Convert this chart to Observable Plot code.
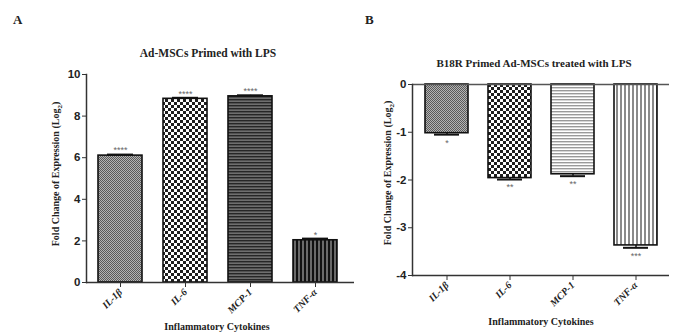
<!DOCTYPE html>
<html>
<head>
<meta charset="utf-8">
<script src="https://cdn.jsdelivr.net/npm/d3@7"></script>
<script src="https://cdn.jsdelivr.net/npm/@observablehq/plot@0.6"></script>
<style>
  body { margin: 0; background: #fff; }
  #wrap { position: relative; width: 688px; height: 334px; overflow: hidden; background: #fff; font-family: "Liberation Serif", "Times New Roman", serif; }
  .abs { position: absolute; white-space: nowrap; font-weight: bold; color: #222; }
  .plot { position: absolute; top: 0; }
  .ylab { transform: translate(-50%, -50%) rotate(-90deg); font-size: 10px; }
</style>
</head>
<body>
<div id="wrap">
  <div class="abs" style="left:13px; top:12px; font-size:13px;">A</div>
  <div class="abs" style="left:365px; top:12px; font-size:13px;">B</div>
  <div class="abs" style="left:208px; top:53px; font-size:11.5px; transform:translate(-50%,-50%);">Ad-MSCs Primed with LPS</div>
  <div class="abs" style="left:534px; top:63px; font-size:11px; transform:translate(-50%,-50%);">B18R Primed Ad-MSCs treated with LPS</div>
  <div class="abs ylab" style="left:57px; top:174px;">Fold Change of Expression (Log<sub style="font-size:7px">2</sub>)</div>
  <div class="abs ylab" style="left:389px; top:173px;">Fold Change of Expression (Log<sub style="font-size:7px">2</sub>)</div>
  <div class="abs" style="left:217px; top:326px; font-size:10px; transform:translate(-50%,-50%);">Inflammatory Cytokines</div>
  <div class="abs" style="left:541px; top:321px; font-size:10px; transform:translate(-50%,-50%);">Inflammatory Cytokines</div>
</div>
<script>
// ---- data ----
const categories = ["IL-1β", "IL-6", "MCP-1", "TNF-α"];
const valuesA = [6.1, 8.83, 8.95, 2.03];
const errorsA = [0.05, 0.05, 0.05, 0.08];
const starsA = ["****", "****", "****", "*"];
const ticksA = [0, 2, 4, 6, 8, 10];

const valuesB = [-1.02, -1.96, -1.88, -3.37];
const errorsB = [0.03, 0.03, 0.04, 0.05];
const starsB = ["*", "**", "**", "***"];
const ticksB = [0, -1, -2, -3, -4];

const dataA = categories.map((c, i) => ({cat: c, v: valuesA[i], e: errorsA[i], s: starsA[i]}));
const dataB = categories.map((c, i) => ({cat: c, v: valuesB[i], e: errorsB[i], s: starsB[i]}));

function defsFor(prefix, light) {
  const hs = light ? ["#ffffff", "#9a9a9a"] : ["#6e6e6e", "#262626"];
  const vs = light ? ["#ffffff", "#8a8a8a"] : ["#6a6a6a", "#111111"];
  return `
  <pattern id="${prefix}0" width="2" height="2" patternUnits="userSpaceOnUse">
    <rect width="2" height="2" fill="#b4b4b4"/><rect width="1" height="1" fill="#5a5a5a"/><rect x="1" y="1" width="1" height="1" fill="#5a5a5a"/>
  </pattern>
  <pattern id="${prefix}1" width="6" height="6" patternUnits="userSpaceOnUse">
    <rect width="6" height="6" fill="#ffffff"/><rect width="3" height="3" fill="#1e1e1e"/><rect x="3" y="3" width="3" height="3" fill="#1e1e1e"/>
  </pattern>
  <pattern id="${prefix}2" width="4" height="3" patternUnits="userSpaceOnUse">
    <rect width="4" height="3" fill="${hs[0]}"/><rect width="4" height="1.4" fill="${hs[1]}"/>
  </pattern>
  <pattern id="${prefix}3" width="4" height="4" patternUnits="userSpaceOnUse">
    <rect width="4" height="4" fill="${vs[0]}"/><rect width="2" height="4" fill="${vs[1]}"/>
  </pattern>`;
}

function addDefs(svg, prefix, light) {
  const d = document.createElementNS("http://www.w3.org/2000/svg", "defs");
  d.innerHTML = defsFor(prefix, light);
  svg.insertBefore(d, svg.firstChild);
}

const axisFontY = {fontSize: 11.5, fontWeight: "bold", fontFamily: "Liberation Sans, Arial, sans-serif", fill: "#222"};
const axisFontX = {fontSize: 10, fontWeight: "bold", fontStyle: "italic", fontFamily: "Liberation Serif, Times New Roman, serif", fill: "#222"};

// ---- Panel A ----
const plotA = Plot.plot({
  width: 360, height: 334,
  marginLeft: 86, marginRight: 6, marginTop: 74, marginBottom: 52,
  style: {background: "transparent", overflow: "visible"},
  x: {domain: categories, paddingInner: 0.33, paddingOuter: 0.17, range: [86, 349], label: null},
  y: {domain: [0, 10], label: null},
  color: {type: "identity"},
  marks: [
    Plot.barY(dataA, {x: "cat", y: "v", fill: d => `url(#pa${categories.indexOf(d.cat)})`, stroke: "#111", strokeWidth: 1.6}),
    Plot.ruleX(dataA, {x: "cat", y1: "v", y2: d => d.v + d.e, stroke: "#111", strokeWidth: 1.5}),
    Plot.tickY(dataA, {x: "cat", y: d => d.v + d.e, stroke: "#111", strokeWidth: 2, inset: 9}),
    Plot.text(dataA, {x: "cat", y: d => d.v + d.e, text: "s", dy: -4, fill: "#666", fontSize: 9, fontFamily: "Liberation Sans, sans-serif"}),
    Plot.ruleY([0], {stroke: "#333", strokeWidth: 1.5}),
    Plot.frame({anchor: "left", stroke: "#333", strokeWidth: 1.5}),
    Plot.axisY({ticks: ticksA, tickSize: 4, tickPadding: 2, label: null, stroke: "#333", ...axisFontY}),
    Plot.axisX({tickRotate: -45, tickSize: 5, tickPadding: 3, label: null, stroke: "#333", ...axisFontX})
  ]
});
addDefs(plotA, "pa", false);
plotA.classList.add("plot");
plotA.style.left = "0px";

// ---- Panel B ----
const plotB = Plot.plot({
  width: 344, height: 334,
  marginLeft: 68, marginRight: 19, marginTop: 84, marginBottom: 59,
  style: {background: "transparent", overflow: "visible"},
  x: {domain: categories, paddingInner: 0.32, paddingOuter: 0.19, label: null},
  y: {domain: [-4, 0], label: null},
  color: {type: "identity"},
  marks: [
    Plot.barY(dataB, {x: "cat", y: "v", fill: d => `url(#pb${categories.indexOf(d.cat)})`, stroke: "#111", strokeWidth: 1.6}),
    Plot.ruleX(dataB, {x: "cat", y1: "v", y2: d => d.v - d.e, stroke: "#111", strokeWidth: 1.5}),
    Plot.tickY(dataB, {x: "cat", y: d => d.v - d.e, stroke: "#111", strokeWidth: 2, inset: 9}),
    Plot.text(dataB, {x: "cat", y: d => d.v - d.e, text: "s", dy: 8, fill: "#666", fontSize: 9, fontFamily: "Liberation Sans, sans-serif"}),
    Plot.ruleY([0], {stroke: "#555", strokeWidth: 1.5}),
    Plot.ruleY([-4], {stroke: "#333", strokeWidth: 1.5}),
    Plot.frame({anchor: "left", stroke: "#333", strokeWidth: 1.5}),
    Plot.axisY({ticks: ticksB, tickSize: 4, tickPadding: 2, label: null, stroke: "#333", tickFormat: d => `${d}`, ...axisFontY}),
    Plot.axisX({tickRotate: -45, tickSize: 5, tickPadding: 3, label: null, stroke: "#333", ...axisFontX})
  ]
});
addDefs(plotB, "pb", true);
plotB.classList.add("plot");
plotB.style.left = "344px";

const wrap = document.getElementById("wrap");
wrap.insertBefore(plotB, wrap.firstChild);
wrap.insertBefore(plotA, wrap.firstChild);
</script>
</body>
</html>
